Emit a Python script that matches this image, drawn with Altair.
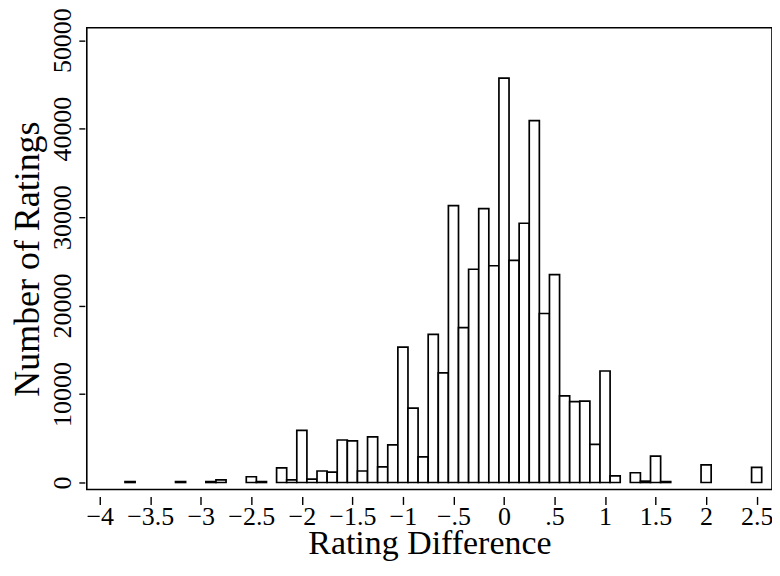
import altair as alt
import pandas as pd

# Bin centres (rating difference) and number of ratings per bin
centers = [-3.7, -3.2, -2.9, -2.8, -2.5, -2.4,
           -2.2, -2.1, -2.0, -1.9, -1.8, -1.7, -1.6, -1.5, -1.4, -1.3, -1.2, -1.1,
           -1.0, -0.9, -0.8, -0.7, -0.6, -0.5, -0.4, -0.3, -0.2, -0.1, 0.0,
           0.1, 0.2, 0.3, 0.4, 0.5, 0.6, 0.7, 0.8, 0.9, 1.0, 1.1,
           1.3, 1.4, 1.5, 1.6, 2.0, 2.5]
counts = [100, 100, 100, 300, 650, 100,
          1650, 300, 5900, 370, 1300, 1160, 4800, 4700, 1300, 5150, 1770, 4250,
          15300, 8400, 2900, 16750, 12400, 31300, 17500, 24100, 30950, 24500, 45700,
          25100, 29300, 40900, 19100, 23500, 9800, 9150, 9200, 4300, 12600, 750,
          1100, 150, 2970, 100, 2000, 1700]
bin_width = 0.1

x_ticks = [-4, -3.5, -3, -2.5, -2, -1.5, -1, -0.5, 0, 0.5, 1, 1.5, 2, 2.5]
y_ticks = [0, 10000, 20000, 30000, 40000, 50000]

df = pd.DataFrame({"center": centers, "count": counts})

FONT = "Liberation Serif"

bars = alt.Chart(df).transform_calculate(
    start=f"datum.center - {bin_width / 2}",
    end=f"datum.center + {bin_width / 2}",
    zero="0",
).mark_bar(fill="white", stroke="black", strokeWidth=1.7).encode(
    x=alt.X("start:Q",
            scale=alt.Scale(domain=[-4.128, 2.652], nice=False, zero=False),
            axis=alt.Axis(values=x_ticks, format=".1~f",
                          labelExpr="datum.value == 0.5 ? '.5' : (datum.value == -0.5 ? '\u2212.5' : datum.label)",
                          title="Rating Difference", domain=False, grid=False,
                          offset=7, tickSize=8, tickWidth=1.4, tickColor="black",
                          labelFont=FONT, labelFontSize=26, labelColor="black",
                          labelPadding=-1, labelFlush=False, labelOverlap=False,
                          titleFont=FONT, titleFontSize=34, titleFontWeight="normal",
                          titleColor="black", titlePadding=-3)),
    x2="end:Q",
    y=alt.Y("count:Q",
            scale=alt.Scale(domain=[-790, 51410], nice=False, zero=False),
            axis=alt.Axis(values=y_ticks, format="d",
                          title="Number of Ratings", domain=False, grid=False,
                          offset=2, tickSize=6, tickWidth=1.4, tickColor="black",
                          labelAngle=270, labelAlign="center", labelBaseline="bottom",
                          labelFont=FONT, labelFontSize=26, labelColor="black",
                          labelPadding=3, labelFlush=False, labelOverlap=False,
                          titleFont=FONT, titleFontSize=36, titleFontWeight="normal",
                          titleColor="black", titlePadding=3)),
    y2="zero:Q",
)

chart = bars.properties(
    width=687,
    height=463,
    autosize=alt.AutoSizeParams(type="none"),
    padding={"left": 79, "top": 19, "right": 0, "bottom": 73},
    background="white",
).configure_view(stroke="black", strokeWidth=1.6)

chart.save("out.html", embed_options={"renderer": "svg", "actions": False})
